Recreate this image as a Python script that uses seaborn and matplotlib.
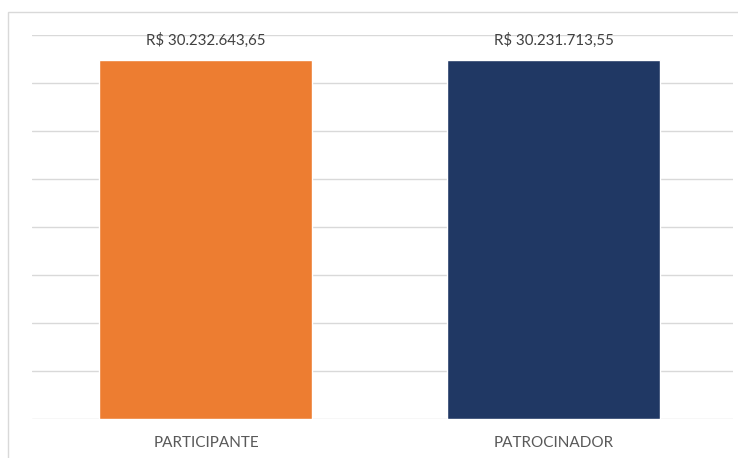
import numpy as np
import pandas as pd
import matplotlib
matplotlib.use("Agg")
import matplotlib.pyplot as plt
import seaborn as sns
from matplotlib.patches import Rectangle

categorias = ["PARTICIPANTE", "PATROCINADOR"]
valores = [30232643.65, 30231713.55]
cores = ["#ED7D31", "#203864"]


def formata_brl(v):
    s = f"{v:,.2f}".replace(",", "X").replace(".", ",").replace("X", ".")
    return f"R$ {s}"


df = pd.DataFrame({"categoria": categorias, "valor": valores})

sns.set_style("white")
plt.rcParams["font.family"] = ["Lato", "DejaVu Sans"]

fig = plt.figure(figsize=(7.38, 4.58), dpi=100)
ax = fig.add_axes([32 / 738, 39 / 458, 701 / 738, 384 / 458])

# moldura do gráfico (cortada à direita e embaixo)
fig.patches.append(Rectangle((8 / 738, -0.1), 1.2, (446 / 458) + 0.1,
                             transform=fig.transFigure, fill=False,
                             edgecolor="#D9D9D9", linewidth=1.0, zorder=0))

sns.barplot(data=df, x="categoria", y="valor", hue="categoria",
            palette=cores, width=0.612, saturation=1, legend=False, ax=ax)

ymax = 32.34e6
ax.set_ylim(0, ymax)
ax.set_yticks(np.linspace(0, ymax, 9))
ax.yaxis.grid(True, color="#D9D9D9", linewidth=1.0)
ax.set_axisbelow(True)
ax.tick_params(axis="y", left=False, labelleft=False)
ax.tick_params(axis="x", bottom=False, labelsize=11, labelcolor="#595959", pad=9)
ax.set_xlabel("")
ax.set_ylabel("")
ax.set_xlim(-0.5, 1.515)
for s in ax.spines.values():
    s.set_visible(False)

for cont in ax.containers:
    ax.bar_label(cont, labels=[formata_brl(v) for v in cont.datavalues],
                 padding=9, fontsize=10.8, color="#404040")

fig.savefig("out.png", dpi=100)
